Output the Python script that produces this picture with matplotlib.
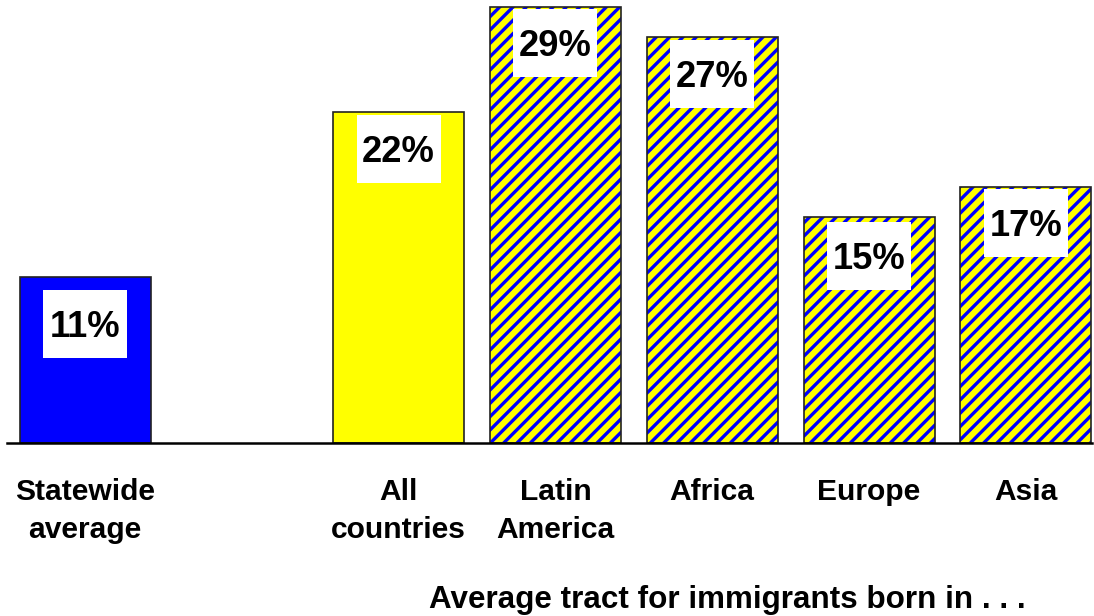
import matplotlib.pyplot as plt
from matplotlib.patches import Rectangle

plt.rcParams['font.family'] = ['Liberation Sans', 'DejaVu Sans']
plt.rcParams['hatch.linewidth'] = 2.0

# Data
categories = ['Statewide\naverage', 'All\ncountries', 'Latin\nAmerica', 'Africa', 'Europe', 'Asia']
positions = [0, 2, 3, 4, 5, 6]
values = [11, 22, 29, 27, 15, 17]
labels = ['11%', '22%', '29%', '27%', '15%', '17%']

# Styles
fills = ['#0000ff', '#ffff00', '#ffff00', '#ffff00', '#ffff00', '#ffff00']
hatches = ['', '', '///', '///', '///', '///']
box_gap_px = [13, 3, 2, 3, 5, 2]   # white label box below bar top

DPI = 120
fig = plt.figure(figsize=(1094 / DPI, 616 / DPI), dpi=DPI)
ax = fig.add_axes([7 / 1094, 173 / 616, 1085 / 1094, 443 / 616])

unit_x = 156.8          # px per category slot
unit_y = 15.05          # px per percent
width = 131 / unit_x

# filled bars with blue hatching, then black outlines
ax.bar(positions, values, width=width, color=fills, edgecolor='#0000ff',
       hatch=hatches, linewidth=0)
ax.bar(positions, values, width=width, fill=False, edgecolor='#222222',
       linewidth=1.0)

ax.set_xlim(-78 / unit_x, -78 / unit_x + 1085 / unit_x)
ax.set_ylim(0, 443 / unit_y)

# value labels in white boxes
box_w = 84 / unit_x
box_h = 68 / unit_y
for x, v, lab, gap in zip(positions, values, labels, box_gap_px):
    top = v - gap / unit_y
    ax.add_patch(Rectangle((x - box_w / 2, top - box_h), box_w, box_h,
                           facecolor='white', edgecolor='none', zorder=3))
    center = top - box_h / 2
    ax.text(x, center - 13 / unit_y, lab, ha='center', va='baseline',
            fontsize=21.8, fontweight='bold', zorder=4)

for s in ['top', 'right', 'left']:
    ax.spines[s].set_visible(False)
ax.spines['bottom'].set_linewidth(1.5)
ax.set_yticks([])
ax.set_xticks(positions)
ax.set_xticklabels(categories, fontsize=18, fontweight='bold', linespacing=1.45)
ax.tick_params(axis='x', length=0, pad=21)

fig.text(727 / 1094, 1 - 608 / 616, 'Average tract for immigrants born in . . .',
         ha='center', va='baseline', fontsize=18.8, fontweight='bold')

fig.savefig('out.png', dpi=DPI)
